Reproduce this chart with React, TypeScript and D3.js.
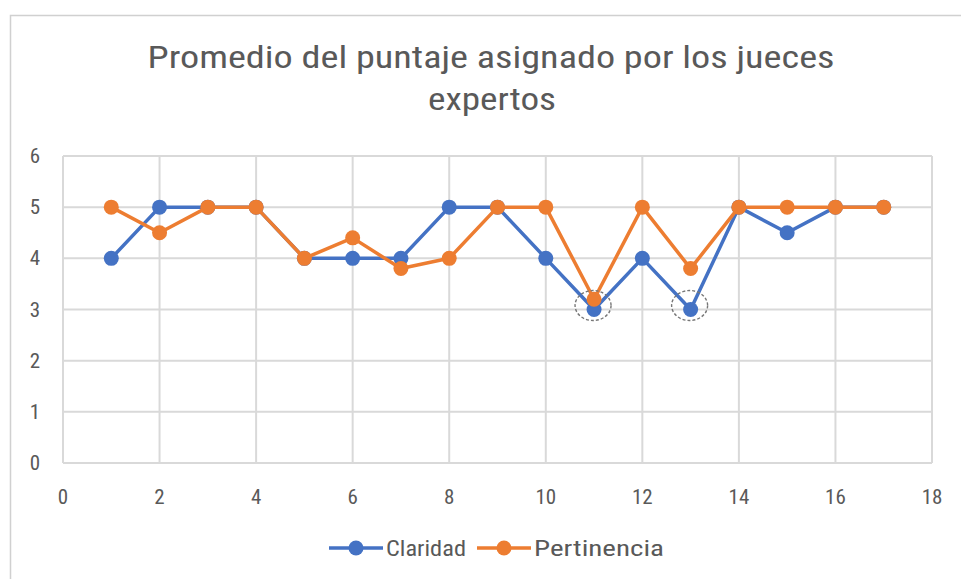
import React, { useEffect, useRef } from 'react';
import * as d3 from 'd3';

const xValues = [1, 2, 3, 4, 5, 6, 7, 8, 9, 10, 11, 12, 13, 14, 15, 16, 17];
const claridad = [4, 5, 5, 5, 4, 4, 4, 5, 5, 4, 3, 4, 3, 5, 4.5, 5, 5];
const pertinencia = [5, 4.5, 5, 5, 4, 4.4, 3.8, 4, 5, 5, 3.2, 5, 3.8, 5, 5, 5, 5];
const xTicks = [0, 2, 4, 6, 8, 10, 12, 14, 16, 18];
const yTicks = [0, 1, 2, 3, 4, 5, 6];
const seriesNames = ['Claridad', 'Pertinencia'];
const seriesColors = ['#4472C4', '#ED7D31'];
const circledPoints = [11, 13];

const width = 961;
const height = 579;
const font = "'Liberation Sans Narrow', 'Roboto Condensed', Roboto, sans-serif";

export default function App() {
  const ref = useRef<SVGSVGElement>(null);

  useEffect(() => {
    document.body.style.margin = '0';
    const svg = d3.select(ref.current);
    svg.selectAll('*').remove();

    const x = d3.scaleLinear().domain([0, 18]).range([63, 932]);
    const y = d3.scaleLinear().domain([0, 6]).range([463, 156]);

    svg.append('rect').attr('width', width).attr('height', height).attr('fill', '#fff');
    // chart border
    svg.append('rect')
      .attr('x', 10.5).attr('y', 15.5)
      .attr('width', 960).attr('height', 600)
      .attr('fill', 'none').attr('stroke', '#d0d0d0').attr('stroke-width', 1.5);

    // title
    const title = svg.append('g').attr('fill', '#595959').style('font-family', font).style('font-size', '31px');
    title.append('text').attr('x', 491).attr('y', 68).attr('text-anchor', 'middle')
      .attr('textLength', 687).attr('lengthAdjust', 'spacingAndGlyphs')
      .text('Promedio del puntaje asignado por los jueces');
    title.append('text').attr('x', 492).attr('y', 110).attr('text-anchor', 'middle')
      .attr('textLength', 128).attr('lengthAdjust', 'spacingAndGlyphs')
      .text('expertos');

    // grid
    const grid = svg.append('g').attr('stroke', '#d9d9d9').attr('stroke-width', 2);
    grid.selectAll('.h').data(yTicks).enter().append('line')
      .attr('x1', x(0)).attr('x2', x(18))
      .attr('y1', d => y(d)).attr('y2', d => y(d));
    grid.selectAll('.v').data(xTicks).enter().append('line')
      .attr('y1', y(0)).attr('y2', y(6))
      .attr('x1', d => x(d)).attr('x2', d => x(d));

    // tick labels
    const labels = svg.append('g').attr('fill', '#595959').style('font-family', font).style('font-size', '21px');
    labels.selectAll('.yl').data(yTicks).enter().append('text')
      .attr('x', 40).attr('y', d => y(d) + 7).attr('text-anchor', 'end')
      .text(d => d);
    labels.selectAll('.xl').data(xTicks).enter().append('text')
      .attr('x', d => x(d)).attr('y', 504).attr('text-anchor', 'middle')
      .text(d => d);

    // series
    const allSeries = [claridad, pertinencia];
    allSeries.forEach((vals, si) => {
      const pts = xValues.map((xv, i) => [xv, vals[i]] as [number, number]);
      const line = d3.line<[number, number]>().x(d => x(d[0])).y(d => y(d[1]));
      svg.append('path').datum(pts)
        .attr('d', line)
        .attr('fill', 'none')
        .attr('stroke', seriesColors[si])
        .attr('stroke-width', 3.5)
        .attr('stroke-linejoin', 'round');
      svg.selectAll('.m' + si).data(pts).enter().append('circle')
        .attr('cx', d => x(d[0])).attr('cy', d => y(d[1]))
        .attr('r', 7.5).attr('fill', seriesColors[si]);
    });

    // hand-drawn circles around lowest claridad points
    svg.selectAll('.ann').data(circledPoints).enter().append('ellipse')
      .attr('cx', d => x(d) - 1).attr('cy', d => y(claridad[xValues.indexOf(d)]) - 4)
      .attr('rx', 18).attr('ry', 15)
      .attr('fill', 'none').attr('stroke', '#777').attr('stroke-width', 1.4)
      .attr('stroke-dasharray', '3,2');

    // legend
    const legend = svg.append('g');
    const legendX = [329, 477];
    const legendTextLen = [80, 130];
    seriesNames.forEach((name, i) => {
      const lx = legendX[i];
      legend.append('line').attr('x1', lx).attr('x2', lx + 54).attr('y1', 548).attr('y2', 548)
        .attr('stroke', seriesColors[i]).attr('stroke-width', 3.5);
      legend.append('circle').attr('cx', lx + 27).attr('cy', 548).attr('r', 7.5).attr('fill', seriesColors[i]);
      legend.append('text').attr('x', lx + 57).attr('y', 556)
        .attr('fill', '#595959').style('font-family', font).style('font-size', '22px')
        .attr('textLength', legendTextLen[i]).attr('lengthAdjust', 'spacingAndGlyphs')
        .text(name);
    });
  }, []);

  return <svg ref={ref} width={width} height={height} style={{ display: 'block' }} />;
}
